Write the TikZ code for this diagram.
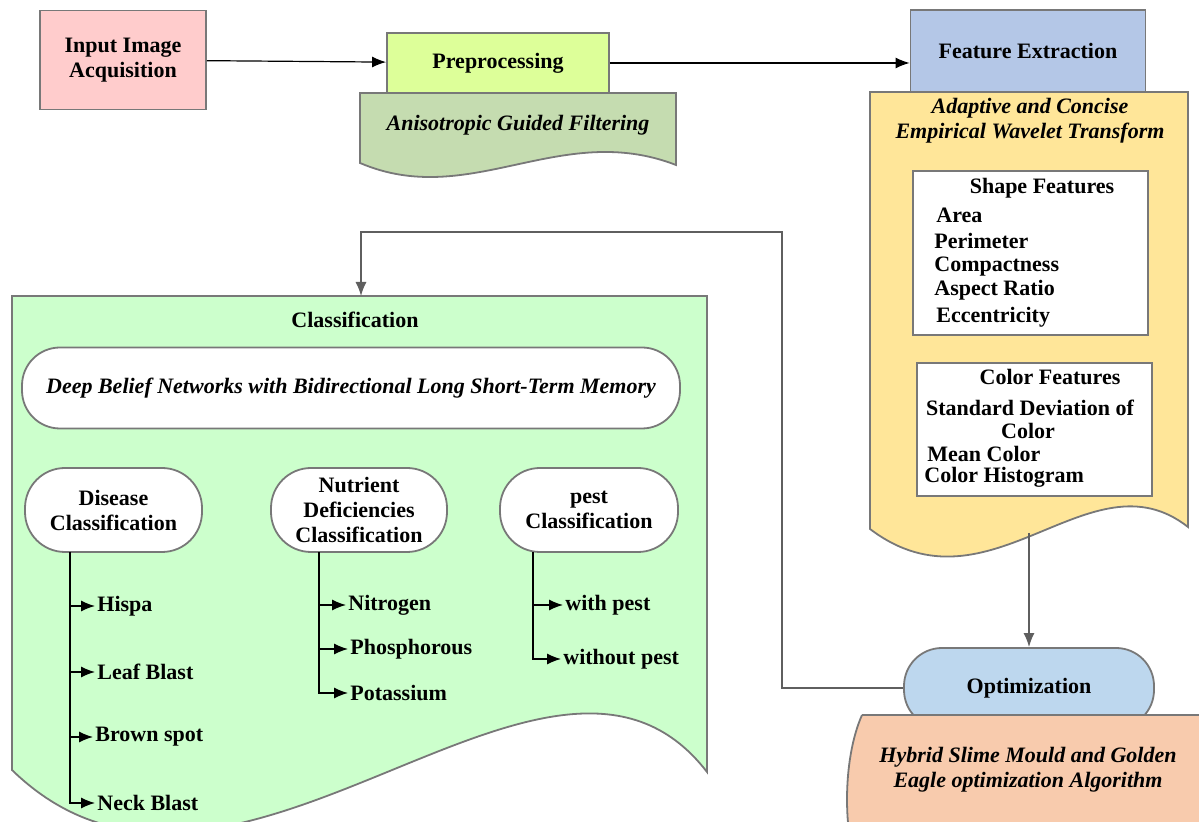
\documentclass[tikz,border=0pt]{standalone}
\usepackage{fontspec}
\setmainfont{Liberation Serif}
\usetikzlibrary{positioning, arrows.meta}
\definecolor{edgegray}{RGB}{120,120,120}
\definecolor{wiregray}{RGB}{95,95,95}
\definecolor{inpink}{RGB}{255,204,204}
\definecolor{prelime}{RGB}{221,255,153}
\definecolor{filtsage}{RGB}{197,220,176}
\definecolor{featblue}{RGB}{180,199,231}
\definecolor{featyellow}{RGB}{255,230,153}
\definecolor{optblue}{RGB}{189,215,238}
\definecolor{algpeach}{RGB}{248,203,173}
\definecolor{clsgreen}{RGB}{204,255,204}
\newcommand{\txtsize}{\fontsize{11}{12.5}\selectfont}
\tikzset{%
	>={Latex[length=7pt, width=5.5pt]},
	every node/.append style = {font = \txtsize},
	blk/.style = {draw = edgegray, line width = 0.9pt},
	proc/.style = {blk, rectangle, align = center, font = \txtsize\bfseries, inner sep = 2pt},
	pill/.style = {blk, rectangle, rounded corners = 19pt, align = center, font = \txtsize\bfseries, fill = white, inner sep = 1pt},
	lbl/.style = {align = center, font = \txtsize\bfseries\itshape},
	ttl/.style = {font = \txtsize\bfseries, inner sep = 1pt},
	itm/.style = {anchor = west, inner sep = 1pt, font = \txtsize\bfseries},
	lnk/.style = {draw = black, line width = 0.6pt},
	wire/.style = {draw = wiregray, line width = 0.7pt}
}
\begin{document}
\begin{tikzpicture}[x=0.5pt, y=-0.5pt]
			\useasboundingbox (0,0) rectangle (1199,822);
			\clip (0,0) rectangle (1199,822);
			\draw [blk, fill = filtsage] (360,93) -- (676,93) -- (676,165) .. controls (560,120) and (470,210) .. (360,163) -- cycle;
			\node [proc, fill = inpink, minimum width = 83pt, minimum height = 49.5pt] (inp) at (123,60) {Input Image\\Acquisition};
			\node [proc, fill = prelime, minimum width = 111pt, minimum height = 30pt] (pre) at (498,63) {Preprocessing};
			\node [lbl] (agf) at (518,125) {Anisotropic Guided Filtering};
			\draw [blk, fill = featyellow] (870,92) -- (1188,92) -- (1188,527) .. controls (1090,450) and (990,620) .. (870,529) -- cycle;
			\node [proc, fill = featblue, minimum width = 117.5pt, minimum height = 41pt] (fe) at (1028,51) {Feature Extraction};
			\node [lbl] (acewt) at (1030,121) {Adaptive and Concise\\Empirical Wavelet Transform};
			\node [blk, fill = white, minimum width = 117.5pt, minimum height = 82pt] (shp) at (1030.5,253) {};
			\node [ttl] (shp-t) at (1042,188) {Shape Features};
			\node [itm] (area) at (934,215) {Area};
			\node [itm] (perim) at (932,241) {Perimeter};
			\node [itm] (compact) at (932,267) {Compactness};
			\node [itm] (aspect) at (932,290) {Aspect Ratio};
			\node [itm] (ecc) at (934,317) {Eccentricity};
			\node [blk, fill = white, minimum width = 117.5pt, minimum height = 66.5pt] (col) at (1034.5,429.5) {};
			\node [ttl] (col-t) at (1050,377) {Color Features};
			\node [ttl] (stdc) at (1030,408) {Standard Deviation of};
			\node [ttl] (stdc2) at (1028,431) {Color};
			\node [itm, inner sep = 0pt] (meanc) at (927,454) {Mean Color};
			\node [itm, inner sep = 0pt] (histc) at (924,477) {Color Histogram};
			\node [pill, fill = optblue, minimum width = 125pt, minimum height = 40pt] (opt) at (1029,688) {Optimization};
			\draw [blk, fill = algpeach] (862,715) -- (1215,715) .. controls (1195,760) and (1195,840) .. (1215,880) -- (862,880) .. controls (842,840) and (842,760) .. (862,715);
			\node [lbl] (hsm) at (1028,770) {Hybrid Slime Mould and Golden\\Eagle optimization Algorithm};
			\draw [blk, fill = clsgreen] (12,296) -- (707,296) -- (707,772) .. controls (549,567) and (231,983) .. (12,770) -- cycle;
			\node [ttl] (cls) at (355,320) {Classification};
			\node [pill, font = \txtsize\bfseries\itshape, minimum width = 329pt, minimum height = 40.5pt] (dbn) at (351,388) {Deep Belief Networks with Bidirectional Long Short-Term Memory};
			\node [pill, minimum width = 88.5pt, minimum height = 42pt, rounded corners = 20pt] (dis) at (113.5,510) {Disease\\Classification};
			\node [pill, minimum width = 88pt, minimum height = 42pt, rounded corners = 20pt] (nut) at (359,510) {Nutrient\\Deficiencies\\Classification};
			\node [pill, minimum width = 89pt, minimum height = 42pt, rounded corners = 20pt] (pst) at (589,510) {pest\\Classification};
			\coordinate (dis-r) at (70,552);
			\coordinate (nut-r) at (319,552);
			\coordinate (pst-r) at (533,552);
			\node [itm] (hispa) at (95,606) {Hispa};
			\node [itm] (leaf) at (95,672) {Leaf Blast};
			\node [itm] (brown) at (93,737) {Brown spot};
			\node [itm] (neck) at (95,803) {Neck Blast};
			\node [itm] (nitro) at (346,605) {Nitrogen};
			\node [itm] (phos) at (348,649) {Phosphorous};
			\node [itm] (potas) at (348,693) {Potassium};
			\node [itm] (withp) at (563,605) {with pest};
			\node [itm] (nopest) at (561,659) {without pest};
			\draw [lnk, ->] (dis-r) |- (neck.west);
			\draw [lnk, ->] (dis-r |- hispa.west) -- (hispa.west);
			\draw [lnk, ->] (dis-r |- leaf.west) -- (leaf.west);
			\draw [lnk, ->] (dis-r |- brown.west) -- (brown.west);
			\draw [lnk, ->] (nut-r) |- (potas.west);
			\draw [lnk, ->] (nut-r |- nitro.west) -- (nitro.west);
			\draw [lnk, ->] (nut-r |- phos.west) -- (phos.west);
			\draw [lnk, ->] (pst-r) |- (nopest.west);
			\draw [lnk, ->] (pst-r |- withp.west) -- (withp.west);
			\draw [lnk, ->] (inp) -- (pre);
			\draw [lnk, ->] (pre.east) -- (pre.east -| fe.west);
			\coordinate (fe-out) at (1029,533);
			\coordinate (fb) at (782,232);
			\coordinate (cls-in) at (361,296);
			\draw [wire, ->] (fe-out) -- (opt);
			\draw [wire, ->] (opt.west) -| (fb) -| (cls-in);
\end{tikzpicture}
\end{document}
